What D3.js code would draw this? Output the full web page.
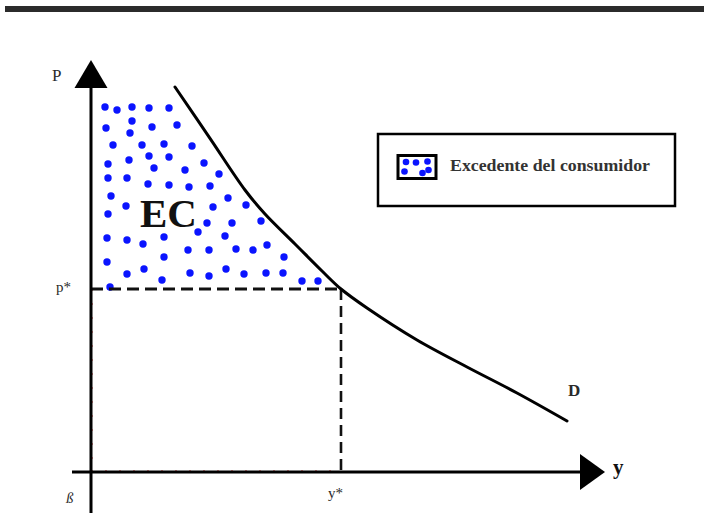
<!DOCTYPE html>
<html>
<head>
<meta charset="utf-8">
<script src="https://cdn.jsdelivr.net/npm/d3@7"></script>
<style>
  html, body { margin: 0; padding: 0; background: #fff; }
  svg { display: block; }
  text { font-family: "Liberation Serif", "Times New Roman", serif; }
</style>
</head>
<body>
<svg id="chart" width="704" height="532"></svg>
<script>
// Demand curve D (quantity y, price p)
const demandY = [16.8, 23.8, 30.8, 34.8, 40.8, 46.2, 50, 55.2, 65.2, 75.2, 85.2, 95.2];
const demandP = [96.25, 83.4, 70.5, 64.5, 57, 50.25, 45.75, 41, 33, 26.25, 19.75, 12.75];

// Equilibrium
const yStar = 50;
const pStar = 45.75;

// Consumer surplus dots (quantity, price)
const ecY = [2.8, 5.2, 8.2, 11.6, 15.6, 3.0, 8.2, 7.8, 12.2, 17.2,
             4.4, 10.2, 14.6, 20.2, 3.4, 7.6, 11.6, 15.6, 12.6, 18.8,
             22.6, 25.6, 3.4, 7.2, 11.4, 15.6, 19.6, 23.8, 4.0, 7.0,
             3.4, 27.4, 24.4, 31.0, 23.2, 28.2, 34.0, 21.4, 26.8, 3.2,
             7.2, 10.4, 14.6, 19.4, 23.6, 29.0, 32.4, 35.2, 14.6, 3.2,
             38.6, 7.2, 10.6, 14.2, 19.8, 23.6, 27.0, 30.6, 35.0, 38.4,
             42.2, 45.4, 3.8];
const ecP = [91.25, 90.5, 91.25, 91, 91, 86, 87.75, 84.75, 86.25, 86.75,
             81.75, 81.75, 82, 81.5, 77, 78, 79, 78.75, 76, 75.5,
             77.25, 74.5, 73.5, 73.5, 72, 71.75, 71.25, 71.5, 69, 66.5,
             64.5, 68.5, 66.25, 66.75, 62.25, 62.25, 62.75, 60, 59, 58.5,
             58, 57, 58.75, 55.5, 55.5, 55.75, 55.5, 56.75, 53.75, 52.5,
             53.75, 49.5, 50.75, 48, 49.75, 49, 50.75, 49.5, 49.75, 49.75,
             47.75, 47.75, 46.25];

// Text
const axisLabelP = "P";
const axisLabelY = "y";
const originLabel = "ß";
const pStarLabel = "p*";
const yStarLabel = "y*";
const curveLabel = "D";
const areaLabel = "EC";
const legendLabel = "Excedente del consumidor";

const svg = d3.select("#chart");

const x = d3.scaleLinear().domain([0, 100]).range([91, 591]);
const y = d3.scaleLinear().domain([0, 100]).range([472, 72]);

// Header rule
svg.append("rect")
  .attr("x", 5).attr("y", 6).attr("width", 699).attr("height", 6)
  .attr("fill", "#2b2b2b");

// Surplus dots
svg.append("g")
  .selectAll("circle")
  .data(d3.range(ecY.length))
  .join("circle")
  .attr("cx", i => x(ecY[i]))
  .attr("cy", i => y(ecP[i]))
  .attr("r", 3.7)
  .attr("fill", "#0a14ff");

// Faint red guide lines under the axes
const red = svg.append("g")
  .attr("stroke", "#e04040").attr("stroke-width", 1)
  .attr("stroke-dasharray", "2,12").attr("opacity", 0.55).attr("fill", "none");
red.append("line")
  .attr("x1", x(0) + 1.5).attr("x2", x(0) + 1.5)
  .attr("y1", y(pStar)).attr("y2", y(0));
red.append("line")
  .attr("x1", x(0)).attr("x2", x(yStar))
  .attr("y1", y(0) - 1.5).attr("y2", y(0) - 1.5);

// Dashed equilibrium guides
svg.append("line")
  .attr("x1", x(0)).attr("x2", x(yStar))
  .attr("y1", y(pStar)).attr("y2", y(pStar))
  .attr("stroke", "#111").attr("stroke-width", 3.2)
  .attr("stroke-dasharray", "12,6");
svg.append("line")
  .attr("x1", x(yStar)).attr("x2", x(yStar))
  .attr("y1", y(pStar)).attr("y2", y(0))
  .attr("stroke", "#111").attr("stroke-width", 2.6)
  .attr("stroke-dasharray", "11,6");

// Axes
const axes = svg.append("g").attr("stroke", "#000").attr("stroke-width", 3);
axes.append("line")
  .attr("x1", x(0)).attr("x2", x(0))
  .attr("y1", y(100) + 14).attr("y2", y(0) + 41);
axes.append("line")
  .attr("x1", x(0) - 19).attr("x2", x(0) + 490)
  .attr("y1", y(0)).attr("y2", y(0));

// Arrow heads
svg.append("path")
  .attr("d", `M${x(0)},${y(100) - 12} L${x(0) - 16.5},${y(100) + 16} L${x(0) + 16.5},${y(100) + 16} Z`)
  .attr("fill", "#000");
svg.append("path")
  .attr("d", `M${x(0) + 514},${y(0)} L${x(0) + 489},${y(0) - 18} L${x(0) + 489},${y(0) + 18} Z`)
  .attr("fill", "#000");

// Demand curve
const line = d3.line()
  .x(i => x(demandY[i]))
  .y(i => y(demandP[i]))
  .curve(d3.curveCatmullRom.alpha(0.5));
svg.append("path")
  .attr("d", line(d3.range(demandY.length)))
  .attr("fill", "none")
  .attr("stroke", "#000")
  .attr("stroke-width", 3)
  .attr("stroke-linecap", "round");

// Labels
const lbl = (t, px, py, size, opts = {}) => svg.append("text")
  .attr("x", px).attr("y", py)
  .attr("font-size", size)
  .attr("font-weight", opts.weight || "normal")
  .attr("font-style", opts.style || "normal")
  .attr("text-anchor", opts.anchor || "start")
  .attr("fill", opts.fill || "#2a2a2a")
  .text(t);

lbl(axisLabelP, 52, 81, 17);
lbl(axisLabelY, 613, 474, 21, { weight: "bold", fill: "#111" });
lbl(originLabel, 66, 503, 15, { style: "italic" });
lbl(pStarLabel, 56, 292, 15);
lbl(yStarLabel, 328, 498, 15);
lbl(curveLabel, 568, 396, 17, { weight: "bold" });
lbl(areaLabel, 140, 227, 41, { weight: "bold", fill: "#111" });

// Legend
const legend = svg.append("g");
legend.append("rect")
  .attr("x", 378).attr("y", 134).attr("width", 297).attr("height", 72)
  .attr("fill", "#fff").attr("stroke", "#000").attr("stroke-width", 2.5);
legend.append("rect")
  .attr("x", 398).attr("y", 155.5).attr("width", 38).attr("height", 23)
  .attr("fill", "#fff").attr("stroke", "#000").attr("stroke-width", 3);
const swatchDots = [[406, 162], [416, 162.5], [427.5, 161.5], [404.5, 171.5], [422.5, 173], [428.5, 170]];
legend.selectAll("circle.sw")
  .data(swatchDots)
  .join("circle")
  .attr("class", "sw")
  .attr("cx", d => d[0]).attr("cy", d => d[1])
  .attr("r", 3.3).attr("fill", "#0a14ff");
legend.append("text")
  .attr("x", 450).attr("y", 171)
  .attr("font-size", 17)
  .attr("font-weight", "bold")
  .attr("fill", "#333")
  .attr("textLength", 200)
  .attr("lengthAdjust", "spacingAndGlyphs")
  .text(legendLabel);
</script>
</body>
</html>
